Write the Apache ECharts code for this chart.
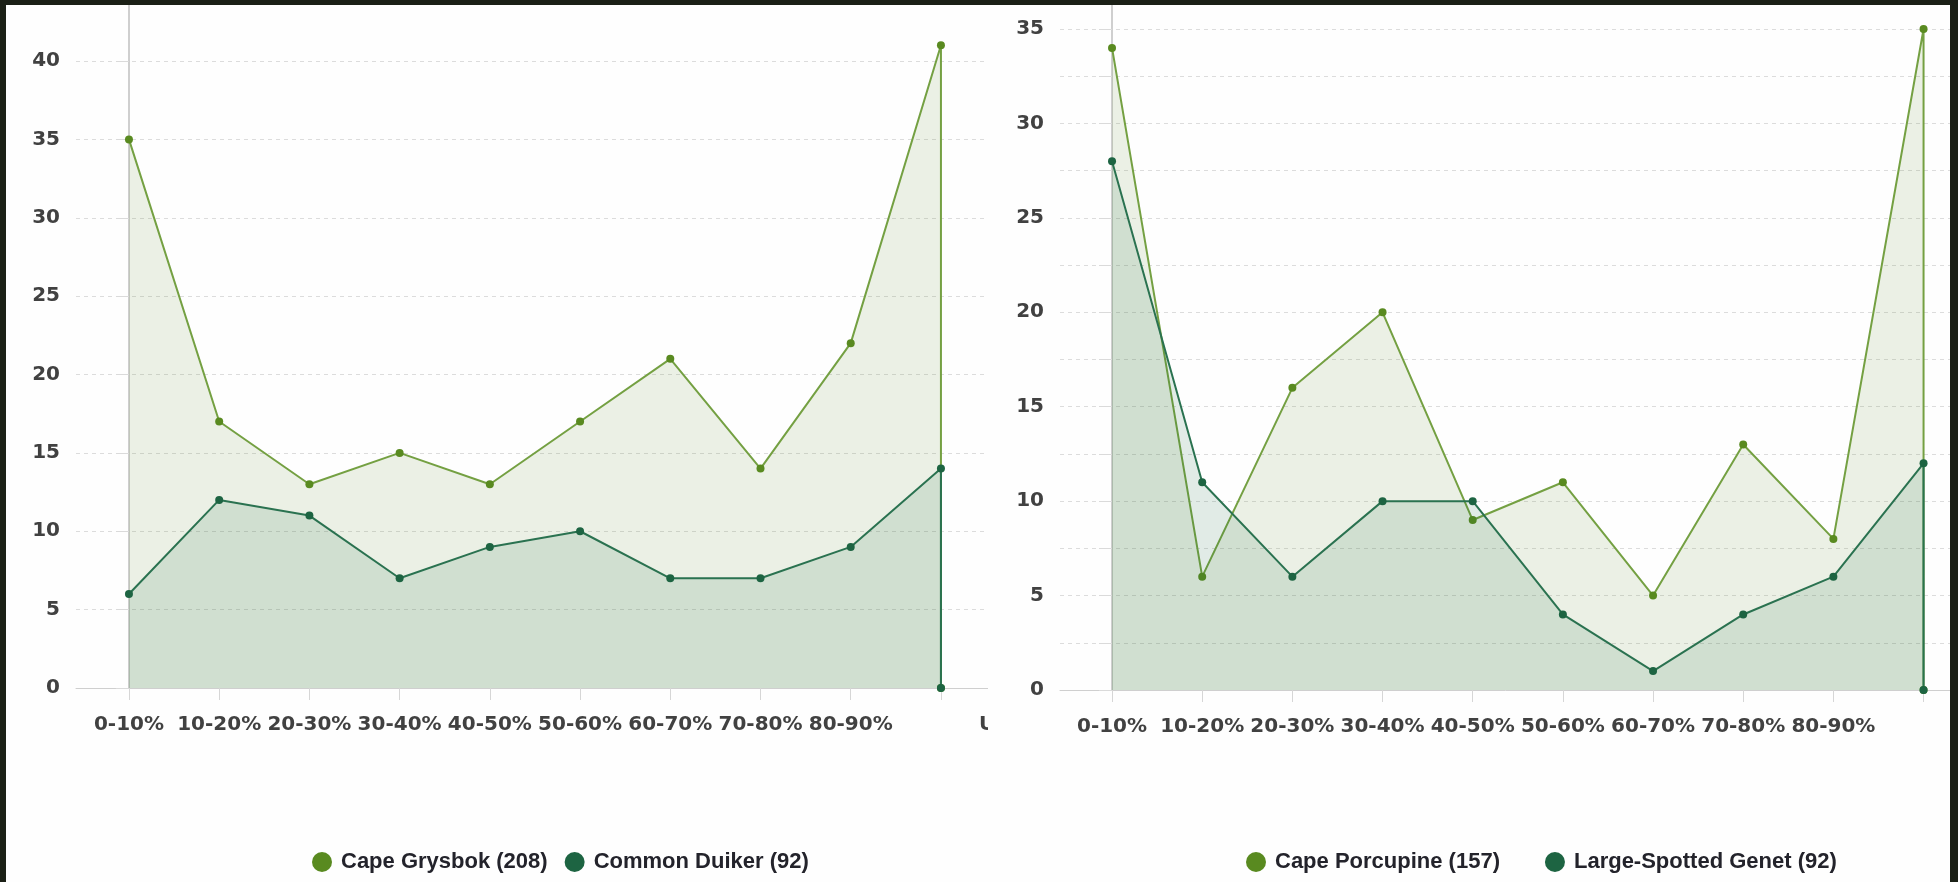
<!DOCTYPE html>
<html>
<head>
<meta charset="utf-8">
<script src="https://cdn.jsdelivr.net/npm/echarts@6/dist/echarts.min.js"></script>
<style>
  html, body { margin:0; padding:0; width:1958px; height:882px; background:#1b2016; overflow:hidden; }
  #panel { position:absolute; left:6px; top:5px; width:1944px; height:877px; background:#fefefe; overflow:hidden; }
  #left { position:absolute; left:0; top:0; width:982px; height:877px; overflow:hidden; }
  #right { position:absolute; left:982px; top:0; width:962px; height:877px; overflow:hidden; }
</style>
</head>
<body>
<div id="panel"><div id="left"></div><div id="right"></div></div>
<script>
// Categories (10th label is not shown in the reference; 11th is cut off at the panel edge)
const xLabels = ['0-10%','10-20%','20-30%','30-40%','40-50%','50-60%','60-70%','70-80%','80-90%','','Unknown'];

// Left chart
const leftNames = ['Cape Grysbok (208)', 'Common Duiker (92)'];
const capeGrysbok  = [35, 17, 13, 15, 13, 17, 21, 14, 22, 41];
const commonDuiker = [6, 12, 11, 7, 9, 10, 7, 7, 9, 14];

// Right chart
const rightNames = ['Cape Porcupine (157)', 'Large-Spotted Genet (92)'];
const capePorcupine     = [34, 6, 16, 20, 9, 11, 5, 13, 8, 35];
const largeSpottedGenet = [28, 11, 6, 10, 10, 4, 1, 4, 6, 12];

const LIGHT_LINE = '#74a042', LIGHT_DOT = '#598a20', LIGHT_FILL = 'rgba(96,140,44,0.17)';
const DARK_LINE = '#2a7250', DARK_DOT = '#1d6442', DARK_FILL = 'rgba(27,102,66,0.18)';

// series points: each value at its category index, closed back to zero at the last category
function toPoints(values) {
  const pts = values.map((v, i) => [i, v]);
  pts.push([values.length - 1, 0]);
  return pts;
}

function makeSeries(name, values, line, dot, fill, z) {
  return {
    name: name, type: 'line', data: toPoints(values), z: z,
    symbol: 'circle', symbolSize: 8, showSymbol: true, clip: false,
    lineStyle: { color: line, width: 2 },
    itemStyle: { color: dot },
    areaStyle: { color: fill, origin: 'start' },
    emphasis: { disabled: true }
  };
}

const tickIdx = xLabels.map((_, i) => i);
const labelFont = { fontFamily: 'DejaVu Sans', fontWeight: 'bold', fontSize: 20, color: '#414141' };

function buildOption(opts) {
  return {
    animation: false,
    legend: {
      left: opts.legendLeft, top: 841, itemGap: opts.legendGap,
      icon: 'circle', itemWidth: 20, itemHeight: 20, selectedMode: false,
      textStyle: { fontFamily: 'Liberation Sans', fontWeight: 'bold', fontSize: 22, color: '#23232b', padding: [0, 0, 0, 4] },
      data: opts.names
    },
    grid: {
      left: opts.gridLeft, top: opts.gridTop, width: opts.gridWidth, height: opts.gridHeight,
      containLabel: false, outerBoundsMode: 'none'
    },
    xAxis: {
      type: 'value', min: opts.xMin, max: 10.5,
      axisLine: { show: true, onZero: false, lineStyle: { color: '#cfcfcf', width: 1 } },
      axisTick: { show: true, customValues: tickIdx, length: 12, lineStyle: { color: '#d6d6d6' } },
      axisLabel: Object.assign({ customValues: tickIdx, margin: 27, hideOverlap: false, formatter: v => xLabels[Math.round(v)] || '' }, labelFont),
      splitLine: { show: false }
    },
    yAxis: {
      type: 'value', min: 0, max: opts.yMax, interval: opts.yInterval,
      axisLine: { show: true, lineStyle: { color: '#cfcfcf', width: 2 } },
      axisTick: { show: true, length: 13, lineStyle: { color: '#dadada' } },
      axisLabel: Object.assign({ margin: 16, formatter: v => (v % 5 === 0 ? String(v) : '') }, labelFont),
      splitLine: { show: true, lineStyle: { color: '#dcdcdc', type: [4, 4], width: 1 } }
    },
    series: opts.series
  };
}

// Left: y=0 at 683, 15.675 px per unit; x=0 at 123, 90.22 px per unit (div coords)
const leftChart = echarts.init(document.getElementById('left'), null, { renderer: 'canvas' });
leftChart.setOption(buildOption({
  names: leftNames, legendLeft: 301, legendGap: 17,
  gridLeft: 70, xMin: -0.587, gridWidth: (10.5 + 0.587) * 90.22,
  gridTop: 683 - 45 * 15.675, gridHeight: 45 * 15.675, yMax: 45, yInterval: 5,
  series: [
    makeSeries(leftNames[0], capeGrysbok, LIGHT_LINE, LIGHT_DOT, LIGHT_FILL, 2),
    makeSeries(leftNames[1], commonDuiker, DARK_LINE, DARK_DOT, DARK_FILL, 3)
  ]
}));

// Right: y=0 at 685, 18.886 px per unit; x=0 at 124, 90.17 px per unit (div coords)
const rightChart = echarts.init(document.getElementById('right'), null, { renderer: 'canvas' });
rightChart.setOption(buildOption({
  names: rightNames, legendLeft: 253, legendGap: 45,
  gridLeft: 72, xMin: -0.577, gridWidth: (10.5 + 0.577) * 90.17,
  gridTop: 685 - 37.5 * 18.886, gridHeight: 37.5 * 18.886, yMax: 37.5, yInterval: 2.5,
  series: [
    makeSeries(rightNames[0], capePorcupine, LIGHT_LINE, LIGHT_DOT, LIGHT_FILL, 2),
    makeSeries(rightNames[1], largeSpottedGenet, DARK_LINE, DARK_DOT, DARK_FILL, 3)
  ]
}));
</script>
</body>
</html>
